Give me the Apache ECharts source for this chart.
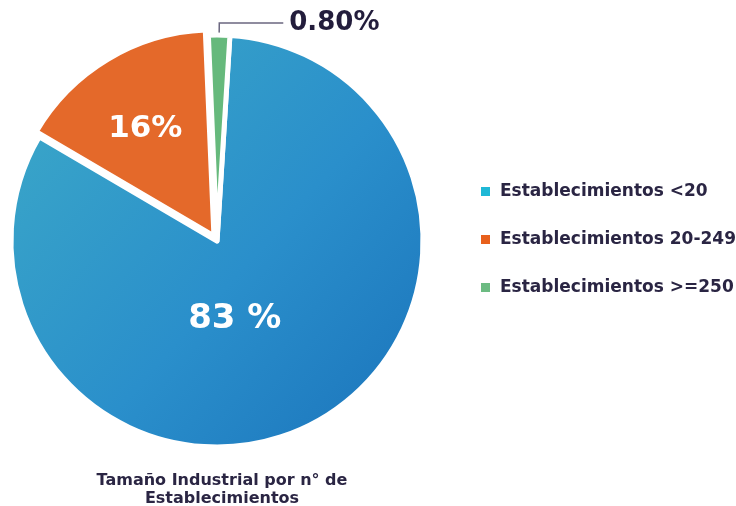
<!DOCTYPE html>
<html>
<head>
<meta charset="utf-8">
<script src="https://cdn.jsdelivr.net/npm/echarts@6/dist/echarts.min.js"></script>
<style>
  html, body { margin: 0; padding: 0; background: #ffffff; }
  #chart { width: 736px; height: 506px; }
</style>
</head>
<body>
<div id="chart"></div>
<script>
// Share of industrial establishments by size band
const categories = ['Establecimientos <20', 'Establecimientos 20-249', 'Establecimientos >=250'];
const shares = [83, 16, 0.8];
const legendColors = ['#1fb8d6', '#e8601c', '#6cbb82'];
const chartTitle = 'Tamaño Industrial por n° de\nEstablecimientos';

const FONT = 'DejaVu Sans';
const INK = '#2a2543';

const sliceFill = [
  {
    type: 'linear', x: 0, y: 0.2, x2: 0.9, y2: 1,
    colorStops: [
      { offset: 0, color: '#3aa6c8' },
      { offset: 0.55, color: '#2a8fcb' },
      { offset: 1, color: '#1c76bd' }
    ]
  },
  '#e4692a',
  '#66b97c'
];

const labelFormats = [
  v => v + ' %',
  v => v + '%',
  v => v.toFixed(2) + '%'
];

const labelShift = [
  { dx: -32, dy: -15 },
  { dx: -14, dy: -16 },
  { dx: 0, dy: 0 }
];

const pieData = categories.map((name, i) => {
  const inside = i < 2;
  return {
    name: name,
    value: shares[i],
    selected: i === 1,
    itemStyle: { color: sliceFill[i] },
    label: inside ? {
      show: true,
      position: 'inside',
      formatter: () => labelFormats[i](shares[i]),
      color: '#ffffff',
      fontFamily: FONT,
      fontWeight: 'bold',
      fontSize: i === 0 ? 34 : 31
    } : {
      show: true,
      position: 'outside',
      formatter: () => labelFormats[i](shares[i]),
      color: '#231d3c',
      fontFamily: FONT,
      fontWeight: 'bold',
      fontSize: 26,
      distanceToLabelLine: 6
    },
    labelLine: inside ? { show: false } : {
      show: true,
      length: 12,
      length2: 64,
      lineStyle: { color: '#6b6780', width: 1.5 }
    }
  };
});

const chart = echarts.init(document.getElementById('chart'), null, { renderer: 'canvas' });
chart.setOption({
  animation: false,
  backgroundColor: '#ffffff',
  title: {
    text: chartTitle,
    left: 217,
    top: 467,
    textAlign: 'center',
    textStyle: {
      fontFamily: FONT,
      fontWeight: 'bold',
      fontSize: 16,
      lineHeight: 18,
      color: INK
    }
  },
  legend: {
    orient: 'vertical',
    left: 474,
    top: 178,
    itemWidth: 11,
    itemHeight: 11,
    itemGap: 31,
    icon: 'rect',
    selectedMode: false,
    data: categories.map((name, i) => ({ name: name, itemStyle: { color: legendColors[i] } })),
    textStyle: {
      fontFamily: FONT,
      fontWeight: 'bold',
      fontSize: 17,
      color: INK,
      padding: [0, 0, 0, 4]
    }
  },
  series: [{
    type: 'pie',
    center: [217, 241],
    radius: [0, 206],
    startAngle: 86.4,
    clockwise: true,
    minAngle: 6,
    avoidLabelOverlap: false,
    selectedMode: 'multiple',
    selectedOffset: 6,
    itemStyle: { borderColor: '#ffffff', borderWidth: 5 },
    emphasis: { disabled: true },
    labelLayout: params => labelShift[params.dataIndex],
    data: pieData
  }]
});
</script>
</body>
</html>
